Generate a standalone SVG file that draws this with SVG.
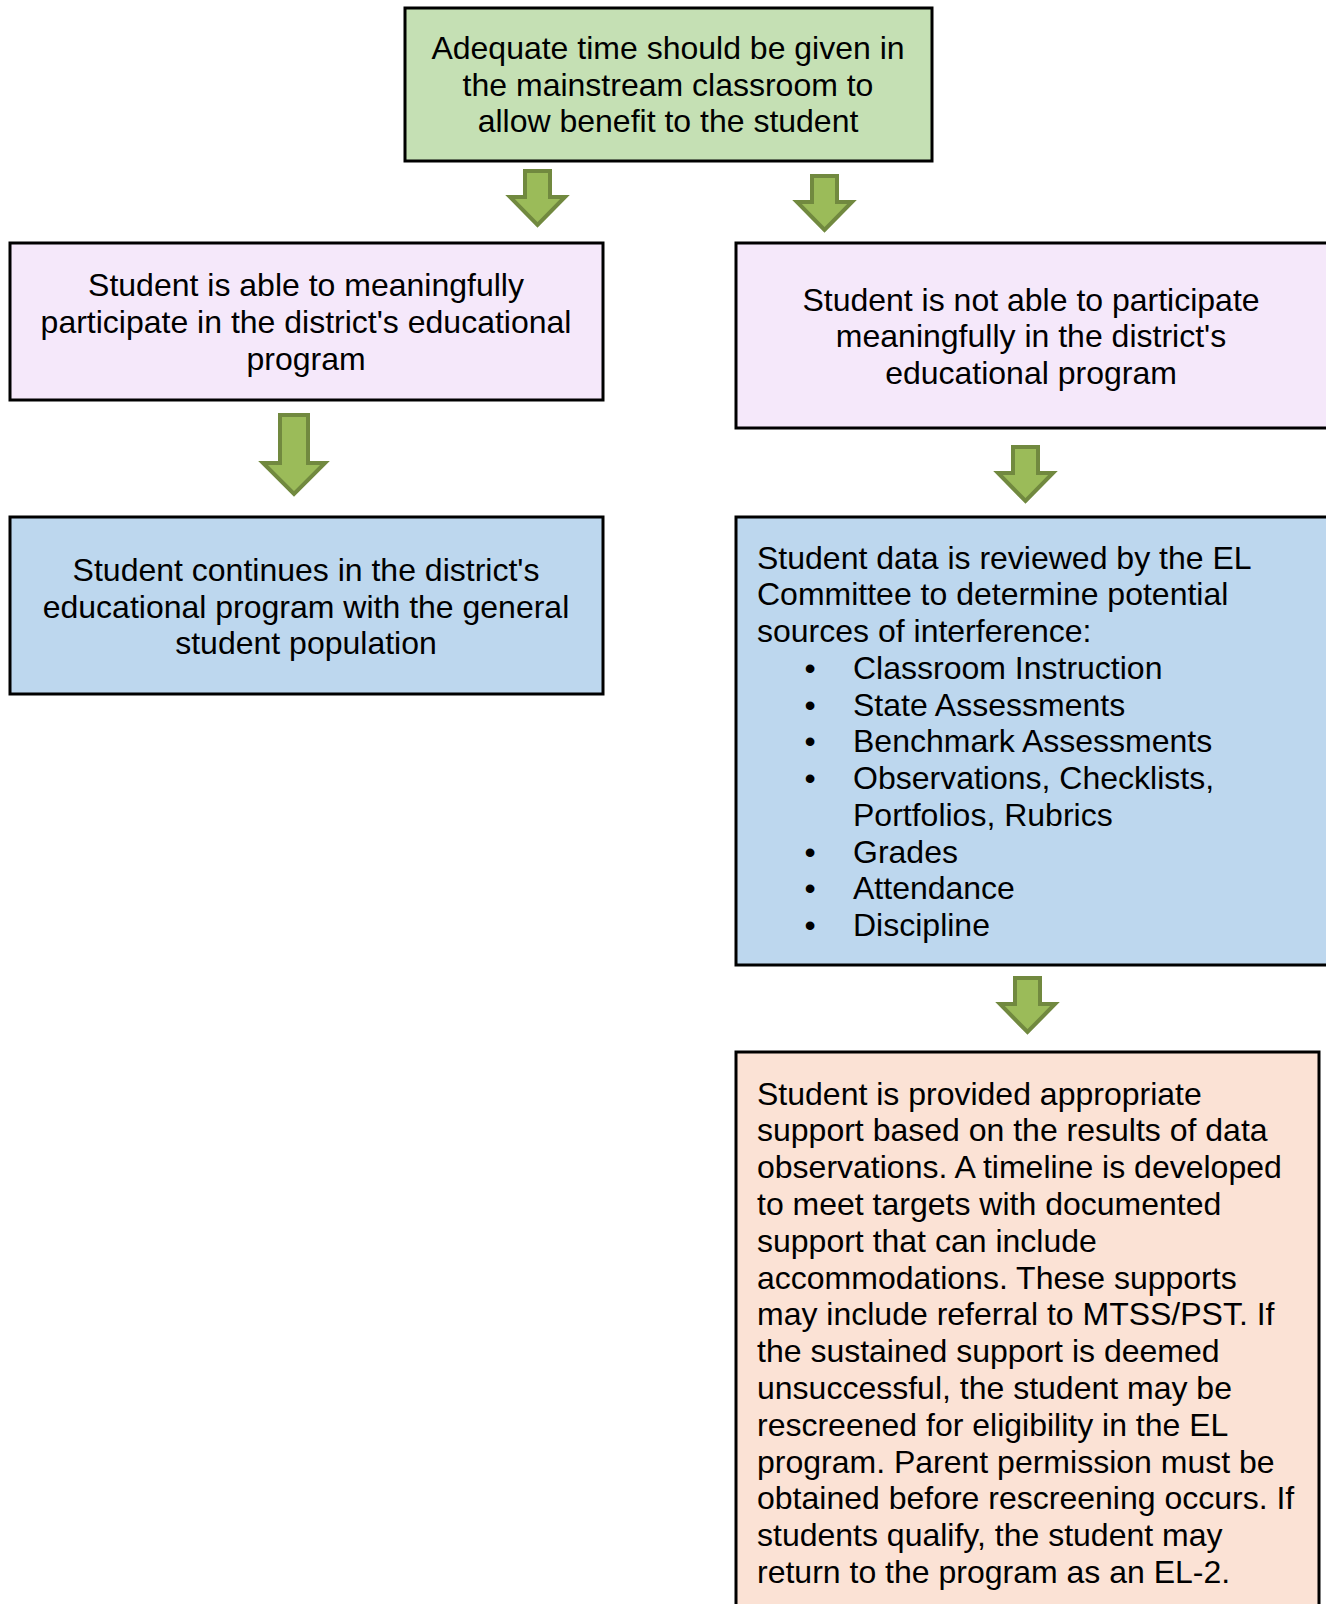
<svg xmlns="http://www.w3.org/2000/svg" width="1326" height="1604" viewBox="0 0 1326 1604">
<style>
.box{stroke:#000;stroke-width:3}
.t{font-family:"Liberation Sans",Arial,sans-serif;font-size:32px;fill:#000}
.c{text-anchor:middle}
.arr{fill:#9BBB59;stroke:#71893F;stroke-width:4;stroke-linejoin:miter}
</style>
<rect width="1326" height="1604" fill="#fff"/>
<g id="n1">
<rect class="box" x="405" y="8" width="527" height="153" fill="#C5E0B4"/>
<text class="t c" x="668"><tspan x="668" y="59">Adequate time should be given in</tspan><tspan x="668" y="95.5">the mainstream classroom to</tspan><tspan x="668" y="132">allow benefit to the student</tspan></text>
</g>
<g id="n2">
<rect class="box" x="10" y="243" width="593" height="157" fill="#F5E8FA"/>
<text class="t c" x="306"><tspan x="306" y="296">Student is able to meaningfully</tspan><tspan x="306" y="333">participate in the district's educational</tspan><tspan x="306" y="370">program</tspan></text>
</g>
<g id="n3">
<rect class="box" x="10" y="517" width="593" height="177" fill="#BDD7EE"/>
<text class="t c" x="306"><tspan x="306" y="581">Student continues in the district's</tspan><tspan x="306" y="617.5">educational program with the general</tspan><tspan x="306" y="654">student population</tspan></text>
</g>
<g id="n4">
<rect class="box" x="736" y="243" width="600" height="185" fill="#F5E8FA"/>
<text class="t c" x="1031"><tspan x="1031" y="310.5">Student is not able to participate</tspan><tspan x="1031" y="347">meaningfully in the district's</tspan><tspan x="1031" y="384">educational program</tspan></text>
</g>
<g id="n5">
<rect class="box" x="736" y="517" width="600" height="448" fill="#BDD7EE"/>
<text class="t" x="757"><tspan x="757" y="568.5">Student data is reviewed by the EL</tspan><tspan x="757" y="605.25">Committee to determine potential</tspan><tspan x="757" y="642">sources of interference:</tspan></text>
<text class="t c"><tspan x="810" y="678.75">•</tspan><tspan x="810" y="715.5">•</tspan><tspan x="810" y="752.25">•</tspan><tspan x="810" y="789">•</tspan><tspan x="810" y="862.5">•</tspan><tspan x="810" y="899.25">•</tspan><tspan x="810" y="936">•</tspan></text>
<text class="t"><tspan x="853" y="678.75">Classroom Instruction</tspan><tspan x="853" y="715.5">State Assessments</tspan><tspan x="853" y="752.25">Benchmark Assessments</tspan><tspan x="853" y="789">Observations, Checklists,</tspan><tspan x="853" y="825.75">Portfolios, Rubrics</tspan><tspan x="853" y="862.5">Grades</tspan><tspan x="853" y="899.25">Attendance</tspan><tspan x="853" y="936">Discipline</tspan></text>
</g>
<g id="n6">
<rect class="box" x="736" y="1052" width="583" height="570" fill="#FBE2D5"/>
<text class="t"><tspan x="757" y="1104.5">Student is provided appropriate</tspan><tspan x="757" y="1141.3">support based on the results of data</tspan><tspan x="757" y="1178.1">observations. A timeline is developed</tspan><tspan x="757" y="1214.9">to meet targets with documented</tspan><tspan x="757" y="1251.7">support that can include</tspan><tspan x="757" y="1288.5">accommodations. These supports</tspan><tspan x="757" y="1325.3">may include referral to MTSS/PST. If</tspan><tspan x="757" y="1362.1">the sustained support is deemed</tspan><tspan x="757" y="1398.9">unsuccessful, the student may be</tspan><tspan x="757" y="1435.7">rescreened for eligibility in the EL</tspan><tspan x="757" y="1472.5">program. Parent permission must be</tspan><tspan x="757" y="1509.3">obtained before rescreening occurs. If</tspan><tspan x="757" y="1546.1">students qualify, the student may</tspan><tspan x="757" y="1582.9">return to the program as an EL-2.</tspan></text>
</g>
<g id="connectors">
<path class="arr" d="M525,171 H550 V197 H565 L537.5,225 L510,197 H525 Z"/>
<path class="arr" d="M812,176 H837 V202 H852 L824.5,230 L797,202 H812 Z"/>
<path class="arr" d="M280,415 H308 V463 H325 L294,494 L263,463 H280 Z"/>
<path class="arr" d="M1013,447 H1038 V473 H1053 L1025.5,501 L998,473 H1013 Z"/>
<path class="arr" d="M1015,978 H1040 V1004 H1055 L1027.5,1032 L1000,1004 H1015 Z"/>
</g>
</svg>
